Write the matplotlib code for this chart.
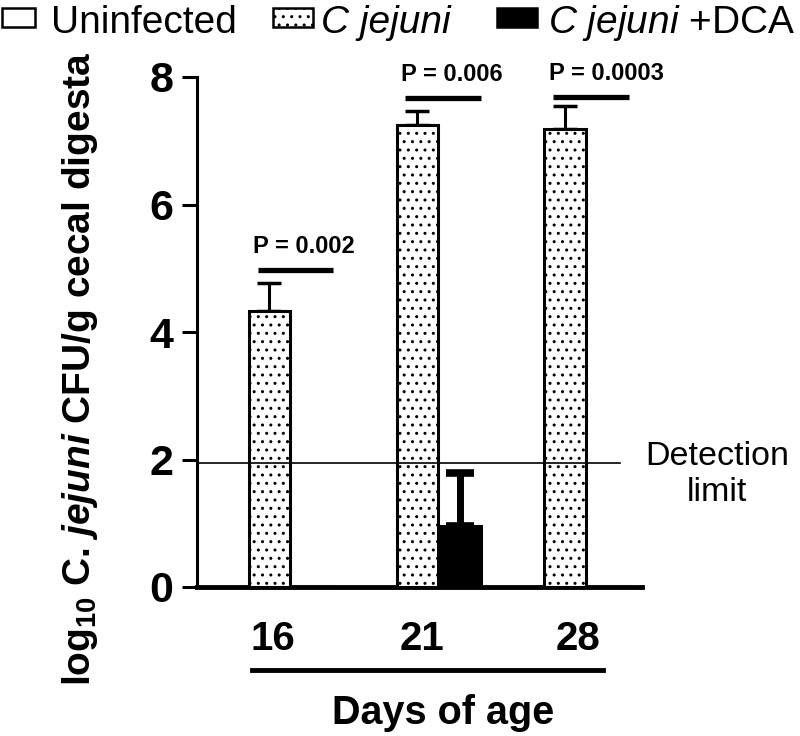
import matplotlib
matplotlib.use("Agg")
import matplotlib.pyplot as plt
import numpy as np
from matplotlib.patches import Rectangle
from matplotlib.lines import Line2D

# ===== data =====
days = ["16", "21", "28"]
uninfected = [0.0, 0.0, 0.0]
cj_mean = [4.33, 7.25, 7.18]
cj_err = [0.44, 0.22, 0.36]
dca_mean = [0.0, 0.96, 0.0]
dca_err = [0.0, 0.83, 0.0]
p_labels = ["P = 0.002", "P = 0.006", "P = 0.0003"]
p_heights = [4.97, 7.67, 7.69]
detection_limit = 1.95
yticks = [0, 2, 4, 6, 8]

# ===== style =====
plt.rcParams["font.family"] = ["Liberation Sans", "DejaVu Sans"]
plt.rcParams["mathtext.fontset"] = "custom"
plt.rcParams["mathtext.rm"] = "Liberation Sans"
plt.rcParams["mathtext.it"] = "Liberation Sans:italic"
plt.rcParams["mathtext.bf"] = "Liberation Sans:bold"
plt.rcParams["mathtext.bfit"] = "Liberation Sans:italic:bold"
plt.rcParams["hatch.color"] = "black"

W, H = 800, 736
fig = plt.figure(figsize=(W / 100, H / 100), dpi=100)
ax = fig.add_axes([197 / W, 1 - 587 / H, (642 - 197) / W, (587 - 77) / H])

x = np.arange(len(days))
bw = 0.28
off = 0.29

ax.bar(x - off, uninfected, bw, color="white", edgecolor="black", linewidth=2.2)
ax.bar(x, cj_mean, bw, color="white", edgecolor="black", linewidth=2.2,
       hatch="..", zorder=3)
ax.bar(x + off, dca_mean, bw, color="black", edgecolor="black", linewidth=2.2,
       zorder=3)

# error bars (upper only)
ax.errorbar(x, cj_mean, yerr=[np.zeros(3), cj_err], fmt="none", ecolor="black",
            elinewidth=2.2, capsize=8.5, capthick=2.5, zorder=2)
mask = np.array(dca_err) > 0
ax.errorbar((x + off)[mask], np.array(dca_mean)[mask],
            yerr=[np.zeros(mask.sum()), np.array(dca_err)[mask]], fmt="none",
            ecolor="black", elinewidth=5, capsize=10, capthick=5.5, zorder=2)

# detection limit line
ax.plot([-0.49, 2.37], [detection_limit, detection_limit], color="black",
        linewidth=1.2, zorder=4, clip_on=False)
ax.text(3.03, detection_limit - 0.19, "Detection\nlimit", ha="center", va="center",
        fontsize=24.5, linespacing=1.2, clip_on=False)

# p value bars
for i, (lab, h) in enumerate(zip(p_labels, p_heights)):
    ax.plot([x[i] - 0.08, x[i] + 0.43], [h, h], color="black", linewidth=3.8,
            solid_capstyle="butt", clip_on=False)
    ax.text(x[i] - 0.11, h + 0.37, lab, ha="left", va="center", fontsize=17,
            fontweight="bold", clip_on=False)

# axes
ax.set_xlim(-0.49, 2.52)
ax.set_ylim(0, 8)
ax.set_yticks(yticks)
ax.set_yticklabels([str(t) for t in yticks], fontsize=31, fontweight="bold")
ax.tick_params(axis="y", length=11, width=2.2, pad=6)
ax.set_xticks(x + np.array([0.02, 0.03, 0.09]))
ax.set_xticklabels(days, fontsize=29, fontweight="bold")
ax.tick_params(axis="x", length=0, pad=24)
for s in ["top", "right"]:
    ax.spines[s].set_visible(False)
ax.spines["left"].set_linewidth(2.2)
ax.spines["bottom"].set_linewidth(3.5)

# underline under the day labels + axis title
fig.add_artist(Line2D([252 / W, 603 / W], [1 - 670 / H] * 2, color="black",
                      linewidth=3.5, transform=fig.transFigure))
fig.text(443 / W, 1 - 724 / H, "Days of age", ha="center", va="baseline",
         fontsize=28.5, fontweight="bold")
fig.text(80 / W, 1 - 369 / H,
         r"log$_{\mathbf{10}}$ C. $\mathbfit{jejuni}$ CFU/g cecal digesta",
         rotation=90, ha="center", va="center", fontsize=28, fontweight="bold")

# legend drawn by hand
fig.add_artist(Rectangle((2 / W, 1 - 27 / H), 33 / W, 19 / H, facecolor="white",
                         edgecolor="black", linewidth=1.8, transform=fig.transFigure))
fig.add_artist(Rectangle((273 / W, 1 - 27 / H), 40 / W, 19 / H, facecolor="white",
                         edgecolor="black", linewidth=1.8, hatch="..",
                         transform=fig.transFigure))
fig.add_artist(Rectangle((497 / W, 1 - 27 / H), 40 / W, 19 / H, facecolor="black",
                         edgecolor="black", linewidth=1.8, transform=fig.transFigure))
fig.text(51 / W, 1 - 33 / H, "Uninfected", fontsize=28, va="baseline")
fig.text(321 / W, 1 - 33 / H, "C jejuni", fontsize=28, va="baseline",
         style="italic")
fig.text(548 / W, 1 - 33 / H, r"$\mathit{C\ jejuni}$ +DCA", fontsize=28,
         va="baseline")

fig.savefig("out.png", dpi=100)
